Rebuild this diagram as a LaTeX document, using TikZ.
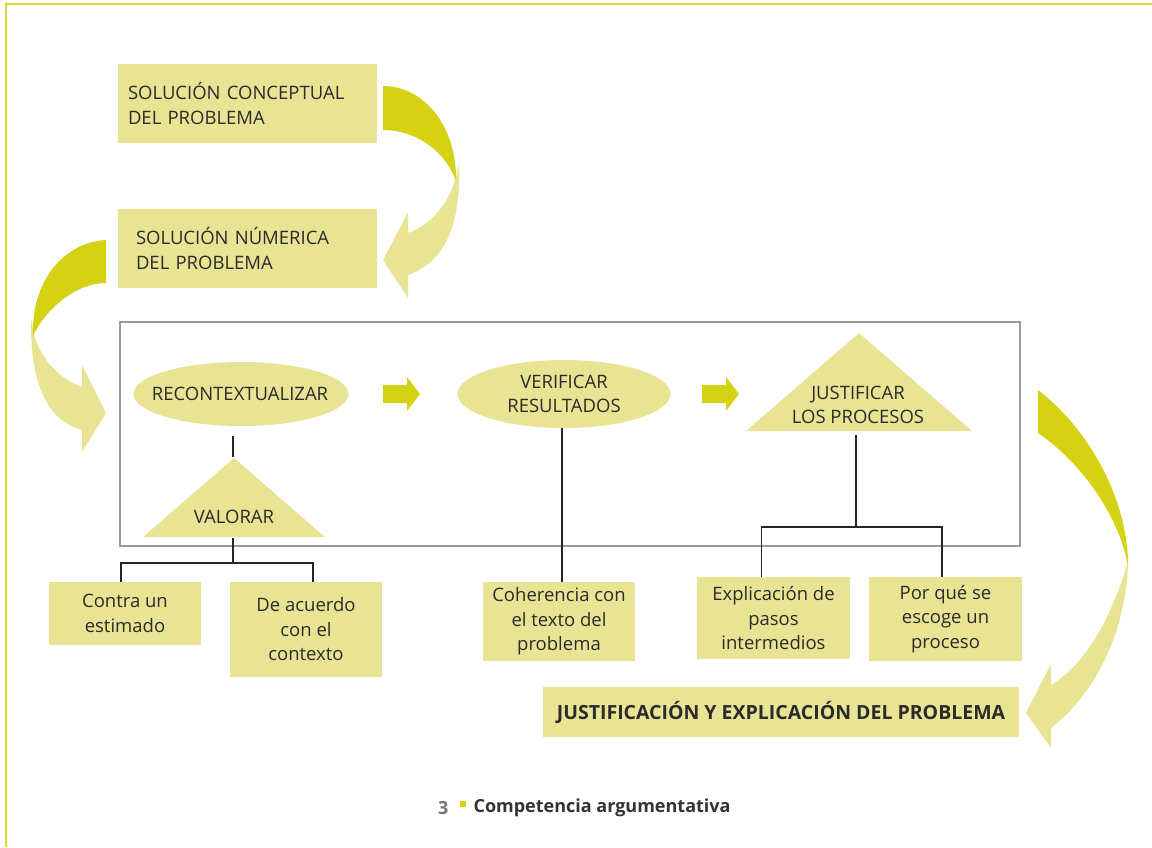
\documentclass[tikz,border=0pt]{standalone}
\usepackage{fontspec}
\setmainfont{Open Sans}
\usetikzlibrary{shapes.geometric,calc}
\definecolor{boxfill}{HTML}{E8E494}
\definecolor{darkyel}{HTML}{D5D113}
\definecolor{framey}{HTML}{DCDC2A}
\definecolor{txt}{HTML}{2B2B2B}
\definecolor{framegray}{HTML}{9B9B9B}
\begin{document}
\begin{tikzpicture}[x=1pt,y=-1pt,
  every node/.style={text=txt,font=\fontsize{18.5}{24.5}\selectfont},
  box/.style={fill=boxfill,inner sep=0pt,align=center},
  lbox/.style={fill=boxfill,inner ysep=0pt,align=left,minimum width=259pt,minimum height=79pt},
  oval/.style={ellipse,fill=boxfill,inner sep=0pt},
  conn/.style={draw=black!85,line width=1.1pt},
  lightarr/.style={fill=boxfill},
  darkarr/.style={fill=darkyel}]
\useasboundingbox (0,0) rectangle (1152,847);
% outer frame
\draw[framey,line width=2.2pt] (6,847) -- (6,4) -- (1152,4);
% gray frame
\draw[framegray,line width=2.4pt] (120,322) rectangle (1020,546);

% top boxes
\node[lbox,inner xsep=10pt,text width=239pt] (concept) at (247.5,103.5) {SOLUCIÓN CONCEPTUAL\\DEL PROBLEMA};
\node[lbox,inner xsep=18pt,text width=223pt] (numeric) at (247.5,248.5) {SOLUCIÓN NÚMERICA\\DEL PROBLEMA};

% curved arrow 1 (concept -> numeric)
\fill[lightarr] (455,180) .. controls (448,205) and (430,225) .. (408,233) -- (408,212) -- (383,260) -- (408,298) -- (408,275)
   .. controls (445,262) and (461,225) .. (459,165) -- cycle;
\fill[darkarr] (383,86) .. controls (423,86) and (457,125) .. (456,181) .. controls (445,150) and (415,130) .. (383,130) -- cycle;

% curved arrow 2 (numeric -> frame)
\fill[lightarr] (34,335) .. controls (42,362) and (62,380) .. (82,387) -- (82,365) -- (106,413) -- (82,452) -- (82,430)
   .. controls (45,420) and (30,380) .. (31,318) -- cycle;
\fill[darkarr] (106,240) .. controls (65,242) and (31,280) .. (33,336) .. controls (45,310) and (75,283) .. (106,283) -- cycle;

% curved arrow 3 (frame -> justificacion)
\fill[lightarr] (1127,565) .. controls (1110,620) and (1085,665) .. (1051,685) -- (1051,664) -- (1026,713) -- (1051,748) -- (1051,728)
   .. controls (1100,690) and (1131,620) .. (1128,545) -- cycle;
\fill[darkarr] (1038,390) .. controls (1090,430) and (1128,500) .. (1128,566) .. controls (1120,520) and (1085,465) .. (1038,433) -- cycle;

% ellipses
\node[oval,minimum width=215pt,minimum height=64pt] (rec) at (241,394) {};
\node at (240,394) {RECONTEXTUALIZAR};
\node[oval,minimum width=213pt,minimum height=68pt] (ver) at (564,394) {};
\node[align=center] at (564,394) {VERIFICAR\\RESULTADOS};

% straight block arrows
\coordinate (a1) at (383,394);
\coordinate (a2) at (702,394);
\foreach \p in {a1,a2}{
  \fill[darkyel] ($(\p)+(0,-9)$) -- ++(24,0) -- ++(0,-8) -- ($(\p)+(37,0)$) -- ($(\p)+(24,17)$) -- ++(0,-8) -- ($(\p)+(0,9)$) -- cycle;
}

% triangles
\fill[boxfill] (859,333) -- (972,431) -- (746,431) -- cycle;
\node[align=center] (jus) at (858,405) {JUSTIFICAR\\LOS PROCESOS};
\coordinate (jusB) at (856,435);
\fill[boxfill] (234,458) -- (325,537) -- (143,537) -- cycle;
\node (val) at (234,517) {VALORAR};
\coordinate (valA) at (233,457);
\coordinate (valB) at (233,538);

% lower boxes
\node[box,minimum width=152pt,minimum height=63pt] (contra) at (125,613.5) {Contra un\\estimado};
\node[box,minimum width=152pt,minimum height=95pt] (acuerdo) at (306,629.5) {De acuerdo\\con el\\contexto};
\node[box,minimum width=152pt,minimum height=79pt] (coh) at (559,621.5) {Coherencia con\\el texto del\\problema};
\node[box,minimum width=153pt,minimum height=82pt] (expl) at (773.5,618) {Explicación de\\pasos\\intermedios};
\node[box,minimum width=153pt,minimum height=84pt] (porque) at (945.5,619) {Por qué se\\escoge un\\proceso};
\node[box,minimum width=476pt,minimum height=50pt,font=\fontsize{19.5}{24}\selectfont\bfseries] (final) at (781,712) {JUSTIFICACIÓN Y EXPLICACIÓN DEL PROBLEMA};

% connectors
\draw[conn] ($(rec.south -| valA)+(0,10)$) -- (valA);
\coordinate (vj) at (233,563);
\draw[conn] (valB) -- (vj);
\draw[conn] ([xshift=-4pt]contra.north) -- ([xshift=-4pt]contra.north |- vj) -- ([xshift=7pt]acuerdo.north |- vj) -- ([xshift=7pt]acuerdo.north);
\draw[conn] ([xshift=-2pt]ver.south) -- ([xshift=-2pt]ver.south |- coh.north);
\coordinate (jj) at (856,527);
\draw[conn] (jusB) -- (jj);
\draw[conn] ([xshift=-12pt]expl.north) -- ([xshift=-12pt]expl.north |- jj) -- ([xshift=-3.5pt]porque.north |- jj) -- ([xshift=-3.5pt]porque.north);

% caption
\node[anchor=east,text=black!55,font=\fontsize{18}{20}\selectfont\bfseries] (num) at (452,808) {3};
\fill[darkyel] (460,801) rectangle (466,807);
\node[anchor=west,text=black!80,font=\fontsize{18}{20}\selectfont\bfseries] (cap) at (470,808) {Competencia argumentativa};
\end{tikzpicture}
\end{document}
